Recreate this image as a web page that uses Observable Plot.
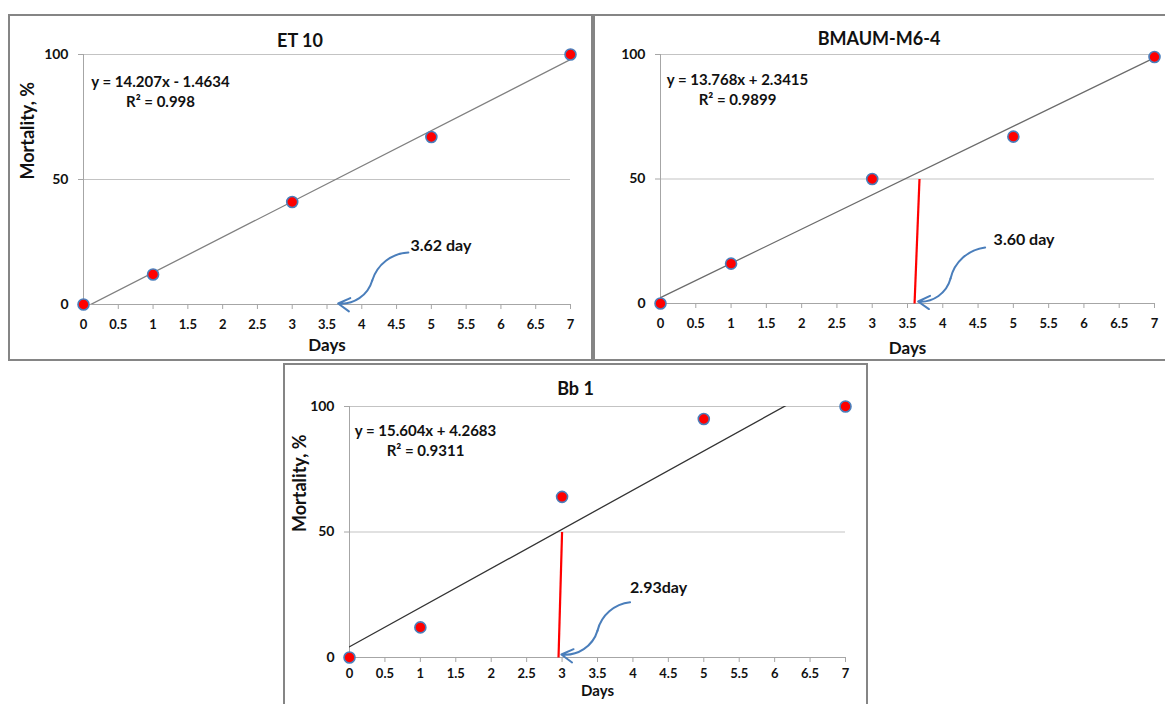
<!DOCTYPE html>
<html><head><meta charset="utf-8">
<script src="https://cdn.jsdelivr.net/npm/d3@7"></script>
<script src="https://cdn.jsdelivr.net/npm/@observablehq/plot@0.6"></script>
<style>
body{margin:0;background:#fff;}
#root{position:relative;width:1165px;height:704px;overflow:hidden;background:#fff;font-family:Lato,"Open Sans",sans-serif;}
.panel{position:absolute;}
.panel svg{position:absolute;left:0;top:0;overflow:visible;}
.frame{position:absolute;border:2px solid #858585;box-sizing:border-box;pointer-events:none;}
.title{position:absolute;left:0;width:100%;text-align:center;font-weight:bold;font-size:18px;line-height:22px;color:#111;}
</style></head><body><div id="root"></div>
<script>
// ---- data ----
const days = [0, 1, 3, 5, 7];
const mortET10 = [0, 12, 41, 67, 100];
const mortBMAUM = [0, 16, 50, 67, 99];
const mortBb1 = [0, 12, 64, 95, 100];
const xTicks = [0, 0.5, 1, 1.5, 2, 2.5, 3, 3.5, 4, 4.5, 5, 5.5, 6, 6.5, 7];
const yTicks = [0, 50, 100];
const titles = ["ET 10", "BMAUM-M6-4", "Bb 1"];
const equations = ["y = 14.207x - 1.4634\nR² = 0.998", "y = 13.768x + 2.3415\nR² = 0.9899", "y = 15.604x + 4.2683\nR² = 0.9311"];
const lt50Labels = ["3.62 day", "3.60 day", "2.93day"];
const lt50LabelX = [4.70, 4.72, 3.96];
const lt50LabelY = [23.6, 25.7, 27.7];
const arrowX = [[4.67, 4.15, 3.66], [4.6, 4.11, 3.65], [3.96, 3.5, 2.99]];
const arrowY = [[20.8, 9.6, 0.4], [22.5, 10, 0.8], [22, 10.7, 1.2]];
const redLineX = [null, [3.6, 3.67], [2.95, 3.0]];
const redLineY = [null, [0, 50], [0, 50]];
const series = [mortET10, mortBMAUM, mortBb1];

// ---- layout ----
const panels = [
  {left: 8, top: 14, w: 584, h: 346, ml: 75, mr: 22, mt: 40, mb: 56, trend: "#808080", ylab: -55, daysDy: 46, daysFs: 17, tickPad: 10, eqDx: 77, eqDy: 19, titleTop: 15,
   frame: {l: 8, t: 14, w: 585, h: 347}},
  {left: 593, top: 14, w: 572, h: 346, ml: 67, mr: 11, mt: 40, mb: 57, trend: "#6b6b6b", ylab: null, daysDy: 50, daysFs: 17, tickPad: 10, eqDx: 77, eqDy: 17, titleTop: 13,
   frame: {l: 593, t: 14, w: 590, h: 347}},
  {left: 283, top: 363, w: 585, h: 341, ml: 66, mr: 23, mt: 43, mb: 47, trend: "#333333", ylab: -49, daysDy: 38, daysFs: 15, tickPad: 6, eqDx: 76, eqDy: 16, titleTop: 14,
   frame: {l: 283, t: 363, w: 585, h: 360}}
];

const root = document.getElementById("root");
const blue = "#4a7ebb";

panels.forEach((p, i) => {
  const data = days.map((d, j) => ({day: d, mort: series[i][j]}));
  const marks = [
    Plot.ruleY([50, 100], {stroke: "#c3c3c3", strokeWidth: 1}),
    Plot.ruleY([0], {stroke: "#a6a6a6", strokeWidth: 1}),
    Plot.ruleX([0], {stroke: "#a6a6a6", strokeWidth: 1}),
    Plot.axisX({ticks: xTicks, tickFormat: d => String(d), tickSize: 5, tickPadding: p.tickPad, stroke: "#a6a6a6", fontSize: 13, fontWeight: "bold", label: null}),
    Plot.axisY({ticks: yTicks, tickSize: 5, tickPadding: 10, stroke: "#a6a6a6", fontSize: 14, fontWeight: "bold", label: null}),
    Plot.linearRegressionY(data, {x: "day", y: "mort", stroke: p.trend, strokeWidth: 1.3, ci: 0, clip: true}),
  ];
  if (redLineX[i]) {
    marks.push(Plot.link([0], {x1: redLineX[i][0], y1: redLineY[i][0], x2: redLineX[i][1], y2: redLineY[i][1], stroke: "#ff0000", strokeWidth: 2.2}));
  }
  marks.push(
    Plot.dot(data, {x: "day", y: "mort", r: 5.5, fill: "#ff0000", stroke: blue, strokeWidth: 1.6}),
    Plot.text([equations[i]], {frameAnchor: "top-left", dx: p.eqDx, dy: p.eqDy, textAnchor: "middle", lineAnchor: "top", lineHeight: 1.3, fontSize: 15, fontWeight: "bold", fill: "#111"}),
    Plot.arrow([0], {x1: arrowX[i][0], y1: arrowY[i][0], x2: arrowX[i][1], y2: arrowY[i][1], bend: -35, headLength: 0, stroke: blue, strokeWidth: 2}),
    Plot.arrow([0], {x1: arrowX[i][1], y1: arrowY[i][1], x2: arrowX[i][2], y2: arrowY[i][2], bend: 40, headLength: 10, stroke: blue, strokeWidth: 2}),
    Plot.text([lt50Labels[i]], {x: lt50LabelX[i], y: lt50LabelY[i], textAnchor: "start", fontSize: 16, fontWeight: "bold", fill: "#111"}),
    Plot.text(["Days"], {frameAnchor: "bottom", dy: p.daysDy, fontSize: p.daysFs, fontWeight: "bold", fill: "#111"})
  );
  if (p.ylab !== null) {
    marks.push(Plot.text(["Mortality, %"], {frameAnchor: "left", dx: p.ylab, rotate: -90, fontSize: 18, fontWeight: "bold", fill: "#111"}));
  }
  const chart = Plot.plot({
    width: p.w, height: p.h,
    marginLeft: p.ml, marginRight: p.mr, marginTop: p.mt, marginBottom: p.mb,
    x: {domain: [0, 7], label: null},
    y: {domain: [0, 100], label: null},
    style: {fontFamily: "Lato, 'Open Sans', sans-serif", fontWeight: "bold", color: "#111", background: "transparent", overflow: "visible"},
    marks
  });
  const div = document.createElement("div");
  div.className = "panel";
  div.style.left = p.left + "px"; div.style.top = p.top + "px";
  div.style.width = p.w + "px"; div.style.height = p.h + "px";
  div.appendChild(chart);
  const t = document.createElement("div");
  t.className = "title"; t.style.top = p.titleTop + "px"; t.textContent = titles[i];
  div.appendChild(t);
  root.appendChild(div);
  const f = document.createElement("div");
  f.className = "frame";
  f.style.left = p.frame.l + "px"; f.style.top = p.frame.t + "px";
  f.style.width = p.frame.w + "px"; f.style.height = p.frame.h + "px";
  root.appendChild(f);
});
</script></body></html>
